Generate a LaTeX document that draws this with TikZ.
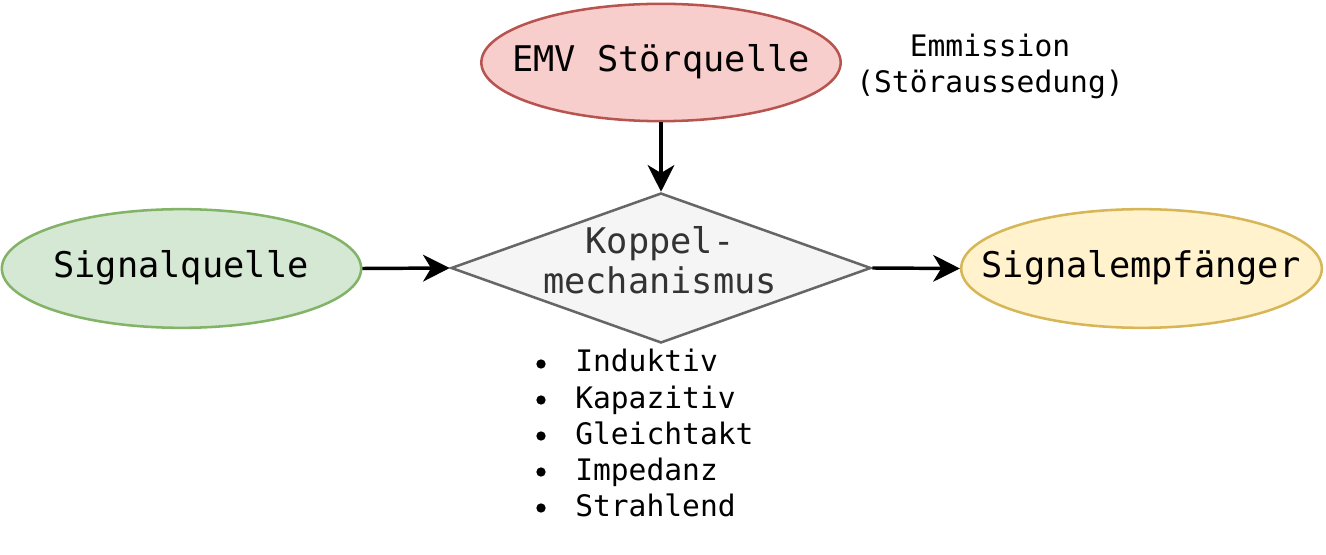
\documentclass[tikz,border=0pt]{standalone}
\usepackage{fontspec}
\setmonofont{DejaVu Sans Mono}
\usetikzlibrary{shapes.geometric,arrows.meta}
\definecolor{redfill}{HTML}{F8CECC}\definecolor{redline}{HTML}{B85450}
\definecolor{greenfill}{HTML}{D5E8D4}\definecolor{greenline}{HTML}{82B366}
\definecolor{yellowfill}{HTML}{FFF2CC}\definecolor{yellowline}{HTML}{D6B656}
\definecolor{grayfill}{HTML}{F5F5F5}\definecolor{grayline}{HTML}{666666}
\definecolor{graytext}{HTML}{333333}
\tikzset{
  oval/.style={ellipse, line width=1.9pt, inner sep=0pt, minimum width=269.5pt, minimum height=88pt},
  bigtext/.style={font=\ttfamily\fontsize{26.5}{30}\selectfont, inner sep=0pt, align=center},
  smalltext/.style={font=\ttfamily\fontsize{22.2}{27}\selectfont, inner sep=0pt, align=center},
  conn/.style={line width=2.6pt, -{Stealth[length=20pt,width=20pt,inset=6pt]}},
  dot/.style={circle, fill=black, inner sep=0pt, minimum size=7pt}
}
\begin{document}
\begin{tikzpicture}[x=0.75pt,y=-0.75pt]
\useasboundingbox (0,0) rectangle (1326,555);
\node[oval, draw=redline, fill=redfill] (emv) at (661,62.5) {};
\node[bigtext] (emvt) at (661,62) {EMV Störquelle};
\node[oval, draw=greenline, fill=greenfill, minimum height=89pt] (sq) at (181.5,268.5) {};
\node[bigtext] (sqt) at (181,268) {Signalquelle};
\node[oval, draw=yellowline, fill=yellowfill, minimum width=270.5pt, minimum height=89pt] (se) at (1141.5,268.5) {};
\node[bigtext] (set) at (1141,268) {Signalempfänger};
\node[diamond, draw=grayline, fill=grayfill, line width=1.9pt, inner sep=0pt, minimum width=315pt, minimum height=112.5pt] (km) at (661,268) {};
\node[bigtext, text=graytext] (kmt) at (660,260) {Koppel-\\mechanismus};
\node[smalltext] (em) at (990,66) {Emmission\\(Störaussedung)};
\draw[conn] (emv.south) -- (km.north);
\draw[conn] (sq.east) -- (km.west);
\draw[conn] (km.east) -- (se.west);
\foreach \t [count=\i from 0] in {Induktiv,Kapazitiv,Gleichtakt,Impedanz,Strahlend} {
  \node[dot] (b\i) at (541,{364+36*\i}) {};
  \node[smalltext, anchor=base west] (l\i) at (575,{372+36*\i}) {\t};
}
\end{tikzpicture}
\end{document}
